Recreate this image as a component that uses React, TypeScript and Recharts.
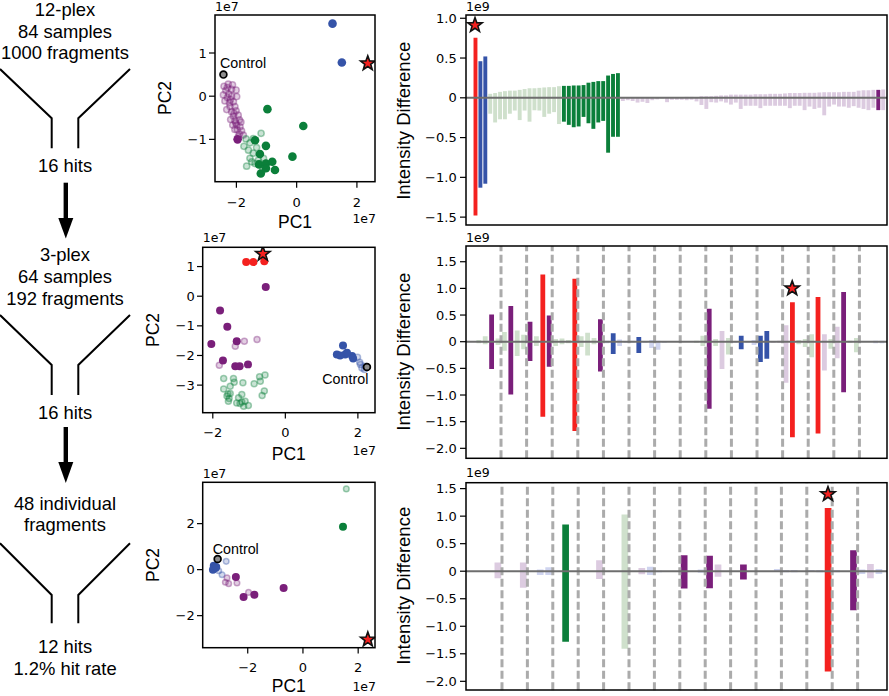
import React from 'react'
import {
  ComposedChart, Bar, Cell, XAxis, YAxis, ReferenceLine, ReferenceDot,
  ScatterChart, Scatter,
} from 'recharts'

// ---- colours by group code ----
const COLORS: Record<string, string> = {
  r: '#f4211f', db: '#3553a8', dg: '#0b7f3a', dp: '#7a1f7a',
  lg: '#cfe0cc', lp: '#dccbe0', lb: '#cfd4ef',
}

// ---- 12-plex screen, 84 samples (x1e9) ----
const screenHigh = [
  0.754, 0.46, 0.52,
  0.05, 0.06, 0.075, 0.084, 0.09, 0.09, 0.10, 0.11, 0.12, 0.12, 0.125, 0.13, 0.134, 0.134, 0.146,
  0.15, 0.15, 0.155, 0.155, 0.16, 0.19, 0.20, 0.21, 0.21, 0.28, 0.30, 0.31,
  0.0, 0.004, 0.004, 0.005, 0.005, 0.005, 0.006, 0.006, 0.008, 0.008, 0.009, 0.01, 0.01, 0.012, 0.012,
  0.01, 0.02, 0.02, 0.02, 0.025, 0.03, 0.03, 0.04, 0.04, 0.04,
  0.04, 0.04, 0.045, 0.045, 0.045, 0.05, 0.05, 0.05, 0.055, 0.06,
  0.06, 0.06, 0.063, 0.063, 0.063, 0.067, 0.07, 0.07, 0.07, 0.07,
  0.075, 0.075, 0.075, 0.09, 0.095, 0.095, 0.10,
  0.10, 0.105,
]
const screenLow = [
  -1.48, -1.13, -1.08,
  -0.20, -0.31, -0.27, -0.27, -0.20, -0.16, -0.28, -0.16, -0.30, -0.155, -0.16, -0.24, -0.20, -0.18, -0.33,
  -0.30, -0.34, -0.37, -0.36, -0.24, -0.32, -0.39, -0.31, -0.29, -0.69, -0.49, -0.49,
  -0.04, -0.03, -0.04, -0.06, -0.05, -0.065, -0.03, -0.02, -0.01, -0.055, -0.025, -0.025, -0.025, -0.03, -0.025,
  -0.045, -0.09, -0.14, -0.055, -0.06, -0.045, -0.06, -0.085, -0.06, -0.14,
  -0.10, -0.10, -0.10, -0.13, -0.10, -0.10, -0.10, -0.10, -0.10, -0.13,
  -0.10, -0.10, -0.155, -0.11, -0.14, -0.125, -0.22, -0.11, -0.085, -0.11,
  -0.11, -0.125, -0.105, -0.125, -0.14, -0.155, -0.125,
  -0.155, -0.155,
]
const screenGroup = [
  'r', 'db', 'db',
  'lg', 'lg', 'lg', 'lg', 'lg', 'lg', 'lg', 'lg', 'lg', 'lg', 'lg', 'lg', 'lg', 'lg', 'lg',
  'dg', 'dg', 'dg', 'dg', 'dg', 'dg', 'dg', 'dg', 'dg', 'dg', 'dg', 'dg',
  'lp', 'lp', 'lp', 'lp', 'lp', 'lp', 'lp', 'lp', 'lp', 'lp', 'lp', 'lp', 'lp', 'lp', 'lp',
  'lp', 'lp', 'lp', 'lp', 'lp', 'lp', 'lp', 'lp', 'lp', 'lp',
  'lp', 'lp', 'lp', 'lp', 'lp', 'lp', 'lp', 'lp', 'lp', 'lp',
  'lp', 'lp', 'lp', 'lp', 'lp', 'lp', 'lp', 'lp', 'lp', 'lp',
  'lp', 'lp', 'lp', 'lp', 'lp', 'lp', 'lp',
  'dp', 'lp',
]
const screenStar = { i: 0, y: 0.913 }

// ---- 3-plex pools, 64 samples (x1e9) ----
const poolHigh = [
  0.03, 0.10, 0.51, 0.06, 0.18, 0.67, 0.21, 0.13, 0.375, 0.10, 1.26, 0.49, 0.05, 0.06, 0.03, 1.18,
  0.10, 0.17, 0.07, 0.42, 0.02, 0.16, 0.04, 0.01, 0.02, 0.09, 0.01, 0.03, 0.02, 0.01, 0, 0,
  0, 0, 0.02, 0.11, 0.62, 0.05, 0.20, 0.07, 0.01, 0.11, 0.01, 0.03, 0.11, 0.20, 0.01, 0.02,
  0.31, 0.74, 0.03, 0.05, 0.14, 0.84, 0.14, 0.05, 0.28, 0.93, 0.02, 0.07, 0, 0, 0.02, 0.02,
]
const poolLow = [
  -0.03, -0.05, -0.51, -0.06, -0.17, -0.99, -0.27, -0.14, -0.36, -0.08, -1.41, -0.47, -0.08, -0.05, -0.03, -1.675,
  -0.10, -0.26, -0.05, -0.56, -0.03, -0.23, -0.08, -0.02, -0.02, -0.21, -0.02, -0.12, -0.15, -0.02, 0, 0,
  0, 0, -0.02, -0.08, -1.26, -0.08, -0.51, -0.24, -0.02, -0.14, -0.02, -0.06, -0.38, -0.32, -0.02, -0.02,
  -0.77, -1.79, -0.05, -0.10, -0.29, -1.72, -0.54, -0.13, -0.31, -0.95, -0.02, -0.20, 0, 0, -0.03, -0.03,
]
const poolGroup = [
  'lg', 'lg', 'dp', 'lg', 'lg', 'dp', 'lg', 'lg', 'dp', 'lg', 'r', 'dp', 'lg', 'lg', 'lg', 'r',
  'lg', 'lg', 'lg', 'dp', 'lb', 'db', 'lb', 'lb', 'lb', 'db', 'lb', 'lb', 'lb', 'lb', 'lb', 'lb',
  'lg', 'lg', 'lg', 'lg', 'dp', 'lg', 'lp', 'lg', 'lb', 'db', 'lb', 'lb', 'db', 'db', 'lp', 'lp',
  'lp', 'r', 'lg', 'lg', 'lg', 'r', 'lp', 'lg', 'lp', 'dp', 'lg', 'lg', 'lb', 'lb', 'lb', 'lb',
]
const poolStar = { i: 49, y: 1.0 }

// ---- 48 individual fragments (x1e9) ----
const indivHigh = [
  0, 0, 0.16, 0, 0, 0.16, 0, 0.03, 0.07, 0, 0.85, 0, 0, 0, 0.20, 0,
  0, 1.03, 0, 0.06, 0.08, 0.01, 0, 0, 0.29, 0, 0.03, 0.28, 0.12, 0, 0, 0.12,
  0, 0, 0, 0.04, 0.02, 0.02, 0, 0.02, 0.02, 1.15, 0.02, 0, 0.38, 0.03, 0.13, 0.04,
]
const indivLow = [
  0, 0, -0.13, 0, 0, -0.30, 0, -0.07, -0.07, 0, -1.28, 0, 0, 0, -0.14, 0,
  0, -1.41, 0, -0.055, -0.07, -0.02, 0, 0, -0.315, 0, -0.03, -0.31, -0.10, 0, 0, -0.15,
  0, 0, 0, -0.01, -0.02, -0.02, 0, -0.01, -0.02, -1.82, -0.02, 0, -0.71, -0.05, -0.13, -0.05,
]
const indivGroup = [
  'lp', 'lp', 'lp', 'lb', 'lb', 'lp', 'lb', 'lb', 'lb', 'lg', 'dg', 'lg', 'lp', 'lp', 'lp', 'lg',
  'lg', 'lg', 'lp', 'lp', 'lb', 'lb', 'lb', 'lp', 'dp', 'lb', 'lb', 'dp', 'lp', 'lb', 'lb', 'dp',
  'lb', 'lb', 'lb', 'lb', 'lb', 'lb', 'lb', 'lb', 'lb', 'r', 'lb', 'lb', 'dp', 'lb', 'lp', 'lb',
]
const indivStar = { i: 41, y: 1.40 }

// group boundaries (dashed lines)
const poolDividers = [3.5, 7.5, 11.5, 15.5, 19.5, 23.5, 27.5, 31.5, 35.5, 39.5, 43.5, 47.5, 51.5, 55.5, 59.5]
const indivDividers = [2.5, 5.5, 8.5, 11.5, 14.5, 17.5, 20.5, 23.5, 26.5, 29.5, 32.5, 35.5, 38.5, 41.5, 44.5]

// ---- PCA scores (x1e7) ----
const screenFadedPurple = [
  [-2.41, 0.23], [-2.27, 0.28], [-2.13, 0.26], [-2.35, 0.13], [-2.16, 0.16], [-2.01, 0.14], [-2.43, 0.03],
  [-2.30, -0.03], [-2.16, 0.00], [-1.99, -0.01], [-2.38, -0.11], [-2.23, -0.15], [-2.10, -0.13], [-2.21, -0.24],
  [-2.05, -0.24], [-2.32, -0.31], [-2.16, -0.36], [-2.01, -0.34], [-2.10, -0.46], [-1.94, -0.44], [-2.19, -0.54],
  [-2.05, -0.57], [-1.90, -0.55], [-1.99, -0.67], [-2.12, -0.67], [-1.88, -0.71], [-1.97, -0.78], [-1.83, -0.80],
  [-1.90, -0.88], [-1.77, -0.90], [-2.05, -0.77], [-1.94, -0.94], [-2.25, 0.05], [-2.20, -0.08], [-2.08, -0.40],
  [-2.02, -0.62], [-1.85, -0.60], [-2.30, 0.20],
]
const screenFadedGreen = [
  [-1.68, -0.99], [-1.44, -0.98], [-1.18, -0.86], [-1.55, -1.08], [-1.75, -1.16], [-1.33, -1.19], [-1.60, -1.25],
  [-1.44, -1.32], [-1.55, -1.44], [-1.66, -1.62], [-1.38, -1.56], [-1.27, -1.48], [-1.49, -1.52], [-1.10, -1.44],
  [-1.13, -1.71],
]
const screenGreen = [
  [-0.97, -0.30], [0.22, -0.69], [-1.38, -1.02], [-1.02, -1.15], [-1.22, -1.34], [-0.14, -1.40],
  [-1.25, -1.58], [-1.02, -1.56], [-0.81, -1.52], [-1.19, -1.79], [-0.72, -1.71], [-1.02, -1.67],
]
const screenPurple = [[-1.96, -1.0]]
const screenBlue = [[1.19, 1.68], [1.50, 0.78]]
const screenControl = [[-2.43, 0.50]]
const screenHit = [[2.36, 0.76]]

const poolFadedGreen = [
  [-1.70, -2.78], [-1.43, -2.78], [-1.17, -2.92], [-1.70, -3.13], [-1.52, -3.04], [-1.61, -3.37], [-1.52, -3.28],
  [-1.57, -3.54], [-1.34, -3.60], [-1.20, -3.57], [-1.11, -3.54], [-1.02, -3.69], [-1.15, -3.71], [-1.29, -3.43],
  [-1.20, -3.32], [-0.86, -2.95], [-0.71, -2.72], [-0.69, -2.87], [-0.56, -2.66], [-0.58, -3.20], [-0.64, -3.35],
  [-1.41, -2.90], [-1.55, -3.45], [-1.25, -3.62], [-1.58, -3.30],
]
const poolFadedPurple = [[-1.38, -1.69], [-1.13, -1.52], [-0.78, -1.46], [-1.82, -2.33]]
const poolPurple = [
  [-0.54, 0.31], [-1.80, -0.48], [-1.60, -1.03], [-2.04, -1.61], [-1.34, -1.52],
  [-1.72, -2.17], [-1.38, -2.36], [-1.26, -2.36], [-1.03, -2.30],
]
const poolFadedBlue = [[1.99, -2.06], [2.07, -2.30], [2.11, -2.42], [2.18, -2.47], [2.05, -2.23], [2.20, -2.36]]
const poolBlue = [[1.42, -1.97], [1.59, -1.66], [1.65, -1.97], [1.84, -2.02], [1.87, -2.10], [1.51, -2.00], [1.70, -1.91]]
const poolRed = [[-1.08, 1.15], [-0.88, 1.15], [-0.58, 1.18]]
const poolControl = [[2.25, -2.39]]
const poolHit = [[-0.62, 1.43]]

const indivFadedGreen = [[1.57, 3.51]]
const indivGreen = [[1.45, 1.86]]
const indivFadedBlue = [[-2.78, 0.36], [-2.93, -0.22], [-3.05, -0.05]]
const indivBlue = [[-3.23, 0.17], [-3.17, 0.07], [-3.26, 0.0], [-3.14, 0.12]]
const indivFadedPurple = [[-2.75, -0.36], [-2.81, -0.55], [-2.69, -0.61], [-2.39, -0.58], [-1.97, -0.99]]
const indivPurple = [[-2.43, -0.32], [-2.15, -1.19], [-1.76, -1.09], [-0.70, -0.80]]
const indivControl = [[-3.09, 0.46]]
const indivHit = [[2.35, -3.04]]

// ---- layout ----
type Box = { x0: number; y0: number; x1: number; y1: number }
const PADL = 60, PADT = 10, PADR = 10, PADB = 40
const TICK_FONT = 'DejaVu Sans, sans-serif'
const LABEL_FONT = 'Liberation Sans, Arial, sans-serif'

const barBoxes: Box[] = [
  { x0: 466, y0: 15, x1: 887, y1: 225 },
  { x0: 466, y0: 246, x1: 887, y1: 458.3 },
  { x0: 466, y0: 482.7, x1: 887, y1: 690 },
]
const pcaBoxes: Box[] = [
  { x0: 215, y0: 15, x1: 375, y1: 181.7 },
  { x0: 202.7, y0: 247.3, x1: 375, y1: 412.7 },
  { x0: 202.7, y0: 482.3, x1: 375, y1: 647.7 },
]

const minus = (s: string) => s.replace('-', '\u2212')
const fmtBar = (v: number) => (v === 0 ? '0' : minus(v.toFixed(1)))
const fmtInt = (v: number) => minus(String(v))

function starPath(cx: number, cy: number, R: number, r: number) {
  let d = ''
  for (let k = 0; k < 10; k++) {
    const a = -Math.PI / 2 + (k * Math.PI) / 5
    const rad = k % 2 === 0 ? R : r
    d += (k === 0 ? 'M' : 'L') + (cx + rad * Math.cos(a)).toFixed(2) + ',' + (cy + rad * Math.sin(a)).toFixed(2)
  }
  return d + 'Z'
}
const StarShape = (p: any) => (
  <path d={starPath(p.cx, p.cy, 7.6, 3.1)} fill={COLORS.r} stroke="#111" strokeWidth={1.6} />
)
const solidDot = (color: string, r: number) => (p: any) => <circle cx={p.cx} cy={p.cy} r={r} fill={color} />
const fadedDot = (color: string, r: number) => (p: any) => (
  <circle cx={p.cx} cy={p.cy} r={r} fill={color} fillOpacity={0.22} stroke={color} strokeOpacity={0.38} strokeWidth={1.5} />
)
const ControlDot = (p: any) => <circle cx={p.cx} cy={p.cy} r={3.4} fill="#8d8d8d" stroke="#000" strokeWidth={1.7} />

const toRows = (hi: number[], lo: number[], grp: string[]) =>
  hi.map((h, i) => ({ i, range: [lo[i], h], g: grp[i] }))
const toPts = (pts: number[][]) => pts.map(([x, y]) => ({ x, y }))

const tickStyle = { fontSize: 13, fontFamily: TICK_FONT, fill: '#000' }
const tickLineStyle = { stroke: '#000', strokeWidth: 1.2 }

interface BarPanelProps {
  box: Box
  rows: { i: number; range: number[]; g: string }[]
  xDomain: [number, number]
  yDomain: [number, number]
  yTicks: number[]
  barSize: number
  dividers: number[]
  star: { i: number; y: number }
}

function BarPanel({ box, rows, xDomain, yDomain, yTicks, barSize, dividers, star }: BarPanelProps) {
  const w = box.x1 - box.x0
  const h = box.y1 - box.y0
  return (
    <div style={{ position: 'absolute', left: box.x0 - PADL, top: box.y0 - PADT }}>
      <ComposedChart width={w + PADL + PADR} height={h + PADT + PADB} data={rows}
        margin={{ top: PADT, right: PADR, bottom: PADB, left: 0 }}>
        <XAxis type="number" dataKey="i" domain={xDomain} allowDataOverflow hide />
        <YAxis type="number" domain={yDomain} ticks={yTicks} allowDataOverflow width={PADL} interval={0}
          axisLine={false} tickLine={tickLineStyle} tickSize={6} tickMargin={3.3}
          tick={tickStyle} tickFormatter={fmtBar} />
        {dividers.map(d => (
          <ReferenceLine key={d} x={d} stroke="#ababab" strokeWidth={3} strokeDasharray="8 3.5" />
        ))}
        <Bar dataKey="range" barSize={barSize} isAnimationActive={false}>
          {rows.map(r => <Cell key={r.i} fill={COLORS[r.g]} />)}
        </Bar>
        <ReferenceLine y={0} stroke="#6e6e6e" strokeWidth={2} />
        <ReferenceDot x={star.i} y={star.y} r={7} shape={StarShape} />
      </ComposedChart>
    </div>
  )
}

interface Layer { pts: number[][]; shape: any }
interface PcaPanelProps {
  box: Box
  xDomain: [number, number]
  yDomain: [number, number]
  xTicks: number[]
  yTicks: number[]
  layers: Layer[]
}

function PcaPanel({ box, xDomain, yDomain, xTicks, yTicks, layers }: PcaPanelProps) {
  const w = box.x1 - box.x0
  const h = box.y1 - box.y0
  return (
    <div style={{ position: 'absolute', left: box.x0 - PADL, top: box.y0 - PADT }}>
      <ScatterChart width={w + PADL + PADR} height={h + PADT + PADB}
        margin={{ top: PADT, right: PADR, bottom: 0, left: 0 }}>
        <XAxis type="number" dataKey="x" domain={xDomain} ticks={xTicks} allowDataOverflow height={PADB} interval={0}
          axisLine={false} tickLine={tickLineStyle} tickSize={6} tickMargin={9.7}
          tick={tickStyle} tickFormatter={fmtInt} />
        <YAxis type="number" dataKey="y" domain={yDomain} ticks={yTicks} allowDataOverflow width={PADL} interval={0}
          axisLine={false} tickLine={tickLineStyle} tickSize={6} tickMargin={2.3}
          tick={tickStyle} tickFormatter={fmtInt} />
        {layers.map((l, k) => (
          <Scatter key={k} data={toPts(l.pts)} shape={l.shape} isAnimationActive={false} />
        ))}
      </ScatterChart>
    </div>
  )
}

function Funnel({ top, bend, bottom }: { top: number; bend: number; bottom: number }) {
  return (
    <g fill="none" stroke="#000" strokeWidth={2}>
      <polyline points={`0,${top} 51.7,${bend} 51.7,${bottom}`} />
      <polyline points={`130,${top} 78.3,${bend} 78.3,${bottom}`} />
    </g>
  )
}

function Arrow({ y0, yHead, yTip }: { y0: number; yHead: number; yTip: number }) {
  const cx = 65.8
  return (
    <g fill="#000">
      <rect x={cx - 2.2} y={y0} width={4.4} height={yHead - y0 + 1} />
      <path d={`M${cx - 7.5},${yHead} L${cx + 7.5},${yHead} L${cx},${yTip} Z`} />
    </g>
  )
}

function Overlay() {
  const left = { fontFamily: LABEL_FONT, fontSize: 18.4, textAnchor: 'middle' as const }
  const pc = { fontFamily: LABEL_FONT, fontSize: 17.5, textAnchor: 'middle' as const }
  const exp = { fontFamily: TICK_FONT, fontSize: 12.5 }
  const ctrl = { fontFamily: LABEL_FONT, fontSize: 14.3 }
  const ylab = { fontFamily: LABEL_FONT, fontSize: 18.5, textAnchor: 'middle' as const }
  return (
    <svg width={889} height={696} style={{ position: 'absolute', left: 0, top: 0, pointerEvents: 'none' }}>
      {/* left flow diagram */}
      <text x={65} y={16} {...left}>12-plex</text>
      <text x={65} y={37.7} {...left}>84 samples</text>
      <text x={65} y={59.3} {...left}>1000 fragments</text>
      <Funnel top={69} bend={118.3} bottom={148.3} />
      <text x={65} y={172} {...left}>16 hits</text>
      <Arrow y0={182.7} yHead={218} yTip={238.5} />
      <text x={65} y={261} {...left}>3-plex</text>
      <text x={65} y={283} {...left}>64 samples</text>
      <text x={65} y={305} {...left}>192 fragments</text>
      <Funnel top={315} bend={365} bottom={395} />
      <text x={65} y={419} {...left}>16 hits</text>
      <Arrow y0={427} yHead={462} yTip={483} />
      <text x={65} y={509.5} {...left}>48 individual</text>
      <text x={65} y={531} {...left}>fragments</text>
      <Funnel top={543.3} bend={595} bottom={623.3} />
      <text x={65} y={653} {...left}>12 hits</text>
      <text x={65} y={674.5} {...left}>1.2% hit rate</text>

      {/* frames */}
      {[...pcaBoxes, ...barBoxes].map((b, k) => (
        <rect key={k} x={b.x0} y={b.y0} width={b.x1 - b.x0} height={b.y1 - b.y0}
          fill="none" stroke="#000" strokeWidth={1.5} />
      ))}

      {/* PCA labels */}
      <text x={295} y={228} {...pc}>PC1</text>
      <text x={288.8} y={460} {...pc}>PC1</text>
      <text x={288.8} y={692} {...pc}>PC1</text>
      <text transform="translate(165,98) rotate(-90)" dy="0.36em" {...pc}>PC2</text>
      <text transform="translate(153,330) rotate(-90)" dy="0.36em" {...pc}>PC2</text>
      <text transform="translate(153,565) rotate(-90)" dy="0.36em" {...pc}>PC2</text>
      <text x={215} y={11} {...exp}>1e7</text>
      <text x={376} y={223} textAnchor="end" {...exp}>1e7</text>
      <text x={202.7} y={242} {...exp}>1e7</text>
      <text x={376} y={455} textAnchor="end" {...exp}>1e7</text>
      <text x={202.7} y={478} {...exp}>1e7</text>
      <text x={376} y={691} textAnchor="end" {...exp}>1e7</text>
      <text x={220} y={68.3} {...ctrl}>Control</text>
      <text x={322.3} y={384} {...ctrl}>Control</text>
      <text x={212.7} y={554} {...ctrl}>Control</text>

      {/* bar chart labels */}
      <text x={466} y={11} {...exp}>1e9</text>
      <text x={466} y={241.5} {...exp}>1e9</text>
      <text x={466} y={477} {...exp}>1e9</text>
      <text transform="translate(403.3,120.8) rotate(-90)" dy="0.36em" {...ylab}>Intensity Difference</text>
      <text transform="translate(403.3,351.7) rotate(-90)" dy="0.36em" {...ylab}>Intensity Difference</text>
      <text transform="translate(403.3,585.8) rotate(-90)" dy="0.36em" {...ylab}>Intensity Difference</text>
    </svg>
  )
}

export default function App(): React.ReactElement {
  return (
    <div style={{ position: 'absolute', left: 0, top: 0, width: 889, height: 696, background: '#fff' }}>
      <PcaPanel box={pcaBoxes[0]} xDomain={[-2.71, 2.60]} yDomain={[-1.98, 1.88]} xTicks={[-2, 0, 2]} yTicks={[-1, 0, 1]}
        layers={[
          { pts: screenFadedPurple, shape: fadedDot(COLORS.dp, 3.1) },
          { pts: screenFadedGreen, shape: fadedDot(COLORS.dg, 3.1) },
          { pts: screenGreen, shape: solidDot(COLORS.dg, 4.3) },
          { pts: screenPurple, shape: solidDot(COLORS.dp, 4.3) },
          { pts: screenBlue, shape: solidDot(COLORS.db, 4.3) },
          { pts: screenControl, shape: ControlDot },
          { pts: screenHit, shape: StarShape },
        ]} />
      <PcaPanel box={pcaBoxes[1]} xDomain={[-2.27, 2.48]} yDomain={[-3.92, 1.66]} xTicks={[-2, 0, 2]} yTicks={[-3, -2, -1, 0, 1]}
        layers={[
          { pts: poolFadedGreen, shape: fadedDot(COLORS.dg, 3.0) },
          { pts: poolFadedPurple, shape: fadedDot(COLORS.dp, 3.0) },
          { pts: poolFadedBlue, shape: fadedDot(COLORS.db, 3.0) },
          { pts: poolPurple, shape: solidDot(COLORS.dp, 4.0) },
          { pts: poolBlue, shape: solidDot(COLORS.db, 4.0) },
          { pts: poolRed, shape: solidDot(COLORS.r, 4.0) },
          { pts: poolControl, shape: ControlDot },
          { pts: poolHit, shape: StarShape },
        ]} />
      <PcaPanel box={pcaBoxes[2]} xDomain={[-3.62, 2.62]} yDomain={[-3.38, 3.81]} xTicks={[-2, 0, 2]} yTicks={[-2, 0, 2]}
        layers={[
          { pts: indivFadedGreen, shape: fadedDot(COLORS.dg, 2.8) },
          { pts: indivFadedBlue, shape: fadedDot(COLORS.db, 2.8) },
          { pts: indivFadedPurple, shape: fadedDot(COLORS.dp, 2.8) },
          { pts: indivBlue, shape: solidDot(COLORS.db, 4.0) },
          { pts: indivPurple, shape: solidDot(COLORS.dp, 4.0) },
          { pts: indivGreen, shape: solidDot(COLORS.dg, 4.0) },
          { pts: indivControl, shape: ControlDot },
          { pts: indivHit, shape: StarShape },
        ]} />

      <BarPanel box={barBoxes[0]} rows={toRows(screenHigh, screenLow, screenGroup)} xDomain={[-1.83, 83.88]}
        yDomain={[-1.599, 1.041]} yTicks={[-1.5, -1, -0.5, 0, 0.5, 1]} barSize={3.9} dividers={[]} star={screenStar} />
      <BarPanel box={barBoxes[1]} rows={toRows(poolHigh, poolLow, poolGroup)} xDomain={[-1.97, 63.81]}
        yDomain={[-2.187, 1.795]} yTicks={[-2, -1.5, -1, -0.5, 0, 0.5, 1, 1.5]} barSize={4.8} dividers={poolDividers} star={poolStar} />
      <BarPanel box={barBoxes[2]} rows={toRows(indivHigh, indivLow, indivGroup)} xDomain={[-1.75, 47.97]}
        yDomain={[-2.163, 1.602]} yTicks={[-2, -1.5, -1, -0.5, 0, 0.5, 1, 1.5]} barSize={6.7} dividers={indivDividers} star={indivStar} />

      <Overlay />
    </div>
  )
}
